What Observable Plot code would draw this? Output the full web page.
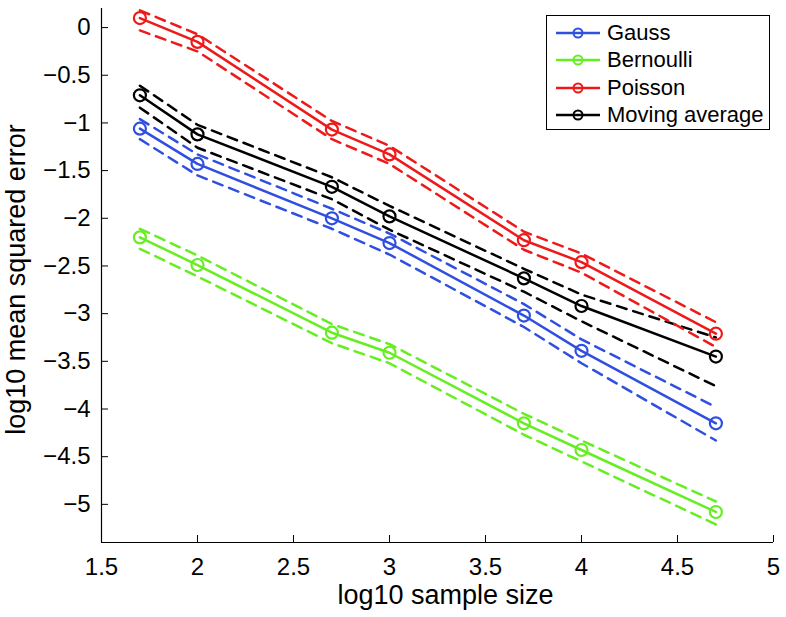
<!DOCTYPE html>
<html><head><meta charset="utf-8">
<script src="https://cdn.jsdelivr.net/npm/d3@7"></script>
<script src="https://cdn.jsdelivr.net/npm/@observablehq/plot@0.6"></script>
<style>
body{margin:0;background:#fff;}
#wrap{position:relative;width:786px;height:617px;font-family:"Liberation Sans",Arial,Helvetica,sans-serif;}
#legend{position:absolute;left:546px;top:15px;width:224px;height:115px;border:1px solid #000;background:#fff;box-sizing:border-box;}
.row{position:absolute;left:0;height:28px;display:flex;align-items:center;font-size:22px;color:#000;white-space:nowrap;}
.row svg{margin-left:8px;margin-right:6px;}
</style></head>
<body><div id="wrap"></div>
<script>
const sampleSize = [1.7, 2, 2.7, 3, 3.7, 4, 4.7];
const seriesNames = ["Gauss", "Bernoulli", "Poisson", "Moving average"];
const seriesColors = ["#2f4fe0", "#66ee22", "#ee1a1a", "#000000"];

const gaussMean  = [-1.06, -1.43, -2.00, -2.26, -3.02, -3.39, -4.15];
const gaussUpper = [-0.96, -1.33, -1.90, -2.16, -2.90, -3.27, -3.98];
const gaussLower = [-1.17, -1.55, -2.11, -2.38, -3.14, -3.52, -4.33];

const bernoulliMean  = [-2.20, -2.49, -3.20, -3.41, -4.15, -4.43, -5.08];
const bernoulliUpper = [-2.11, -2.39, -3.11, -3.32, -4.05, -4.33, -4.97];
const bernoulliLower = [-2.32, -2.61, -3.31, -3.52, -4.27, -4.55, -5.21];

const poissonMean  = [0.10, -0.15, -1.07, -1.33, -2.23, -2.46, -3.21];
const poissonUpper = [0.18, -0.07, -0.98, -1.24, -2.14, -2.37, -3.09];
const poissonLower = [-0.03, -0.25, -1.17, -1.43, -2.33, -2.57, -3.35];

const movingMean  = [-0.71, -1.12, -1.67, -1.98, -2.63, -2.92, -3.45];
const movingUpper = [-0.61, -1.02, -1.57, -1.87, -2.53, -2.80, -3.25];
const movingLower = [-0.84, -1.26, -1.80, -2.12, -2.77, -3.08, -3.76];

const xTicks = [1.5, 2, 2.5, 3, 3.5, 4, 4.5, 5];
const yTicks = [0, -0.5, -1, -1.5, -2, -2.5, -3, -3.5, -4, -4.5, -5];
const xDomain = [1.5, 5];
const yDomain = [-5.4, 0.2];
const xLabel = "log10 sample size";
const yLabel = "log10 mean squared error";

const seriesData = [
  [gaussMean, gaussUpper, gaussLower],
  [bernoulliMean, bernoulliUpper, bernoulliLower],
  [poissonMean, poissonUpper, poissonLower],
  [movingMean, movingUpper, movingLower]
];
const rows = [];
seriesNames.forEach((name, i) => {
  const [m, u, l] = seriesData[i];
  sampleSize.forEach((x, j) => rows.push({series: name, x, mean: m[j], upper: u[j], lower: l[j]}));
});

const fmt = d => (d < 0 ? "\u2212" : "") + String(Math.abs(d));
const font = '"Liberation Sans", Arial, Helvetica, sans-serif';
const chart = Plot.plot({
  width: 786,
  height: 617,
  marginLeft: 101,
  marginRight: 13,
  marginTop: 8,
  marginBottom: 75,
  style: {fontFamily: font, background: "#fff", color: "#000"},
  x: {domain: xDomain},
  y: {domain: yDomain},
  color: {domain: seriesNames, range: seriesColors},
  marks: [
    Plot.line(rows, {x: "x", y: "upper", z: "series", stroke: "series", strokeWidth: 2.5, strokeDasharray: "10,7"}),
    Plot.line(rows, {x: "x", y: "lower", z: "series", stroke: "series", strokeWidth: 2.5, strokeDasharray: "10,7"}),
    Plot.line(rows, {x: "x", y: "mean", z: "series", stroke: "series", strokeWidth: 2.5}),
    Plot.dot(rows, {x: "x", y: "mean", stroke: "series", fill: "none", r: 6, strokeWidth: 2.2}),
    Plot.ruleX([xDomain[0]], {stroke: "#000", strokeWidth: 1.2}),
    Plot.ruleY([yDomain[0]], {stroke: "#000", strokeWidth: 1.2}),
    Plot.axisX(xTicks, {tickSize: -7, tickPadding: 22, fontSize: 24, label: null, tickFormat: fmt}),
    Plot.axisY(yTicks, {tickSize: -7, tickPadding: 18, fontSize: 24, label: null, tickFormat: fmt}),
    Plot.text([xLabel], {text: d => d, frameAnchor: "bottom", dy: 61, dx: 8, fontSize: 27}),
    Plot.text([yLabel], {text: d => d, frameAnchor: "left", textAnchor: "middle", rotate: -90, dx: -85, dy: 4, fontSize: 27})
  ]
});
const wrap = document.getElementById("wrap");
wrap.appendChild(chart);

const legend = document.createElement("div");
legend.id = "legend";
seriesNames.forEach((name, i) => {
  const row = document.createElement("div");
  row.className = "row";
  row.style.top = (3 + i * 27.3) + "px";
  row.innerHTML = `<svg width="46" height="20"><line x1="1" y1="10" x2="45" y2="10" stroke="${seriesColors[i]}" stroke-width="2.5"/><circle cx="23" cy="10" r="4.5" fill="none" stroke="${seriesColors[i]}" stroke-width="2"/></svg><span>${name}</span>`;
  legend.appendChild(row);
});
wrap.appendChild(legend);
</script>
</body></html>
